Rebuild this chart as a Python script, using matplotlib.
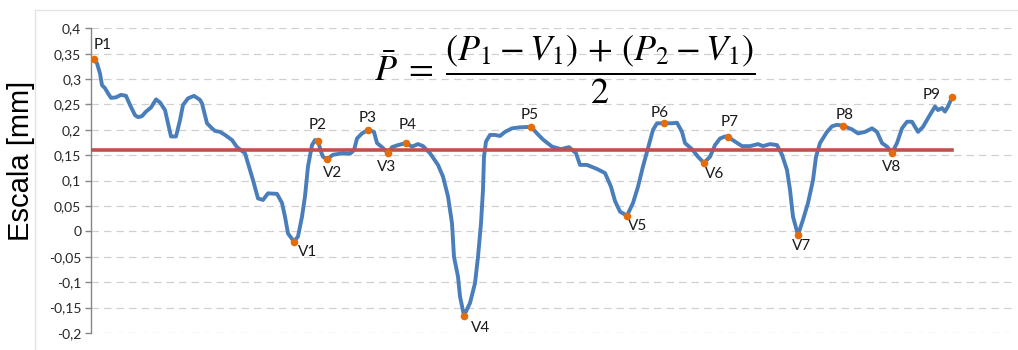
import matplotlib
matplotlib.use("Agg")
import matplotlib.pyplot as plt
from matplotlib.patches import Rectangle
from matplotlib.ticker import FixedLocator, FuncFormatter

# ---- data (distance along profile, height in mm) ----
dist = [0, 3, 6, 8, 11, 14, 17, 22, 27, 32, 36, 41, 44, 48, 52, 57, 62, 66, 71, 74,
        77, 82, 86, 89, 94, 100, 106, 108, 113, 118, 121, 126, 131, 138, 143, 151, 154,
        159, 164, 169, 174, 183, 188, 191, 194, 200, 204, 208, 211, 214, 218, 221, 224,
        227, 229, 233, 239, 249, 256, 260, 263, 268, 274, 280, 283, 288, 294, 298, 304,
        312, 318, 324, 329, 336, 344, 349, 354, 358, 360, 364, 366, 370, 376, 381, 384,
        387, 389, 390, 392, 396, 401, 406, 411, 418, 426, 437, 443, 449, 458, 467, 475,
        482, 486, 493, 503, 511, 517, 521, 526, 533, 539, 544, 549, 554, 559, 563, 570,
        578, 583, 588, 591, 598, 604, 610, 616, 621, 626, 631, 634, 641, 648, 656, 664,
        669, 676, 683, 688, 693, 696, 699, 704, 709, 714, 719, 722, 726, 733, 738, 743,
        749, 758, 764, 771, 778, 783, 788, 793, 798, 803, 808, 813, 818, 824, 829, 834,
        841, 844, 848, 851, 854, 858]
height = [0.339, 0.331, 0.311, 0.288, 0.282, 0.272, 0.263, 0.264, 0.269, 0.267, 0.249,
          0.229, 0.225, 0.227, 0.236, 0.244, 0.260, 0.254, 0.239, 0.213, 0.187, 0.187,
          0.219, 0.249, 0.262, 0.267, 0.259, 0.252, 0.213, 0.203, 0.198, 0.196, 0.190,
          0.180, 0.166, 0.154, 0.134, 0.101, 0.065, 0.062, 0.075, 0.074, 0.056, 0.029,
          -0.004, -0.020, -0.010, 0.029, 0.069, 0.128, 0.170, 0.180, 0.178, 0.157, 0.147,
          0.142, 0.151, 0.154, 0.153, 0.160, 0.183, 0.193, 0.200, 0.196, 0.174, 0.166,
          0.154, 0.166, 0.170, 0.174, 0.167, 0.172, 0.168, 0.154, 0.131, 0.108, 0.069,
          0.016, -0.050, -0.089, -0.128, -0.166, -0.141, -0.102, -0.050, 0.016, 0.082,
          0.147, 0.177, 0.190, 0.190, 0.188, 0.196, 0.203, 0.205, 0.206, 0.193, 0.181,
          0.167, 0.162, 0.166, 0.154, 0.131, 0.131, 0.123, 0.115, 0.088, 0.060, 0.039,
          0.031, 0.056, 0.088, 0.128, 0.164, 0.200, 0.213, 0.213, 0.213, 0.214, 0.196,
          0.174, 0.162, 0.147, 0.135, 0.147, 0.170, 0.183, 0.187, 0.186, 0.177, 0.168,
          0.168, 0.172, 0.168, 0.172, 0.170, 0.151, 0.121, 0.082, 0.029, -0.007, 0.023,
          0.056, 0.101, 0.147, 0.174, 0.196, 0.207, 0.210, 0.208, 0.201, 0.193, 0.196,
          0.203, 0.196, 0.174, 0.167, 0.155, 0.174, 0.203, 0.216, 0.216, 0.196, 0.206,
          0.223, 0.246, 0.239, 0.243, 0.236, 0.246, 0.264]

mean_level = 0.16

point_names = ["P1", "V1", "P2", "V2", "P3", "V3", "P4", "V4", "P5", "V5", "P6", "V6",
               "P7", "V7", "P8", "V8", "P9"]
point_dist = [0, 200, 224, 233, 274, 294, 312, 370, 437, 533, 570, 610, 634, 704, 749,
              798, 858]
point_height = [0.339, -0.020, 0.178, 0.142, 0.200, 0.154, 0.174, -0.166, 0.206, 0.031,
                0.213, 0.135, 0.186, -0.007, 0.208, 0.155, 0.264]
# label offsets in pixels (dx, dy)
label_dx = [9, 14, 0, 6, 0, -1, 2, 17, -1, 11, -4, 11, 2, 4, 2, 0, -20]
label_dy = [14, -10, 16, -14, 12, -14, 18, -12, 12, -10, 10, -11, 15, -11, 11, -14, 2]

y_ticks = [-0.2, -0.15, -0.1, -0.05, 0, 0.05, 0.1, 0.15, 0.2, 0.25, 0.3, 0.35, 0.4]

W, H, DPI = 1018, 350, 100
plt.rcParams["mathtext.fontset"] = "stix"
fig = plt.figure(figsize=(W / DPI, H / DPI), dpi=DPI)
fig.patch.set_facecolor("white")

# chart-area border
fig.add_artist(Rectangle((35 / W, -0.1), 1.2, 1 - 10 / H + 0.1, transform=fig.transFigure,
                         fill=False, edgecolor="#e3e3e3", linewidth=1.0))

left, right = 91 / W, 1012 / W
top, bottom = 1 - 28.3 / H, 1 - 333 / H
ax = fig.add_axes([left, bottom, right - left, top - bottom])
ax.set_facecolor("none")

ax.set_xlim(-3, 918)
ax.set_ylim(-0.2, 0.4)

for y in y_ticks:
    ax.axhline(y, color="#d0d0d0", linewidth=0.9, linestyle=(0, (6, 4)), zorder=0)

ax.plot(dist, height, color="#4a7ebb", linewidth=2.8, solid_capstyle="round",
        solid_joinstyle="round", zorder=2)
ax.plot([dist[0] - 3, dist[-1]], [mean_level, mean_level], color="#c0504d",
        linewidth=2.6, zorder=3)
ax.scatter(point_dist, point_height, s=30, color="#e46c0a", zorder=4, linewidths=0)

for name, x, y, dx, dy in zip(point_names, point_dist, point_height, label_dx, label_dy):
    ax.annotate(name, (x, y), xytext=(dx, dy), textcoords="offset pixels",
                ha="center", va="center", fontsize=11, family="Lato", color="#1a1a1a")

ax.yaxis.set_major_locator(FixedLocator(y_ticks))
ax.yaxis.set_major_formatter(FuncFormatter(lambda v, p: ("%g" % round(v, 2)).replace(".", ",")))
ax.set_xticks([])
for s in ["top", "right", "bottom"]:
    ax.spines[s].set_visible(False)
ax.spines["left"].set_color("#868686")
ax.spines["left"].set_linewidth(1.0)
ax.tick_params(axis="y", direction="out", length=4, width=1, color="#868686",
               labelsize=10, labelcolor="#262626", pad=3)
for lab in ax.get_yticklabels():
    lab.set_family("Lato")

fig.text(21 / W, 1 - 161 / H, "Escala [mm]", rotation=90, ha="center", va="center",
         fontsize=21, family="Liberation Sans", color="black")

fig.text(565 / W, 1 - 70 / H,
         r"$\bar{P}\;=\;\dfrac{(P_1-V_1)\,+\,(P_2-V_1)}{2}$",
         ha="center", va="center", fontsize=26, color="black")

fig.savefig("out.png", dpi=DPI)
